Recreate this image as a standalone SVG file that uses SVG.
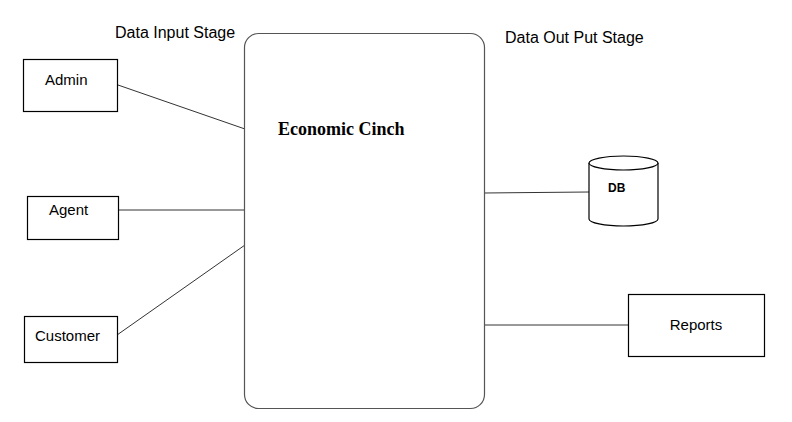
<svg xmlns="http://www.w3.org/2000/svg" width="792" height="422" viewBox="0 0 792 422">
<style>
.box{fill:#fff;stroke:#000;stroke-width:1.2}
.lbl{font-family:"Liberation Sans",Arial,sans-serif;font-size:15px;fill:#000}
.stage{font-family:"Liberation Sans",Arial,sans-serif;font-size:16px;fill:#000}
.conn line{stroke:#333;stroke-width:1}
</style>
<rect width="792" height="422" fill="#fff"/>
<text class="stage" x="115" y="38">Data Input Stage</text>
<text class="stage" x="505" y="43">Data Out Put Stage</text>
<g id="connectors" class="conn">
<line x1="118" y1="85" x2="245" y2="129"/>
<line x1="118" y1="210" x2="245" y2="210"/>
<line x1="117" y1="335" x2="245" y2="245"/>
<line x1="484" y1="193" x2="589" y2="192"/>
<line x1="484" y1="325" x2="628" y2="325"/>
</g>
<g id="economic-cinch">
<rect x="244.5" y="33.5" width="240" height="375" rx="14" ry="14" fill="#fff" stroke="#555" stroke-width="1.2"/>
<text x="278" y="135" font-family="'Liberation Serif','Times New Roman',serif" font-weight="bold" font-size="18">Economic Cinch</text>
</g>
<g id="admin">
<rect class="box" x="23.5" y="59.5" width="94" height="52"/>
<text class="lbl" x="45" y="85">Admin</text>
</g>
<g id="agent">
<rect class="box" x="27.5" y="196.5" width="91" height="43"/>
<text class="lbl" x="49" y="215">Agent</text>
</g>
<g id="customer">
<rect class="box" x="24.5" y="316.5" width="93" height="46"/>
<text class="lbl" x="35" y="341">Customer</text>
</g>
<g id="db">
<path d="M589,163 V219 A34.5,7 0 0 0 658,219 V163" fill="#fff" stroke="#000" stroke-width="1.2"/>
<ellipse cx="623.5" cy="163" rx="34.5" ry="7" fill="#fff" stroke="#000" stroke-width="1.2"/>
<text x="608" y="192" font-family="'Liberation Sans',Arial,sans-serif" font-weight="bold" font-size="12">DB</text>
</g>
<g id="reports">
<rect class="box" x="628.5" y="294.5" width="136" height="62"/>
<text class="lbl" x="696" y="330" text-anchor="middle">Reports</text>
</g>
</svg>
